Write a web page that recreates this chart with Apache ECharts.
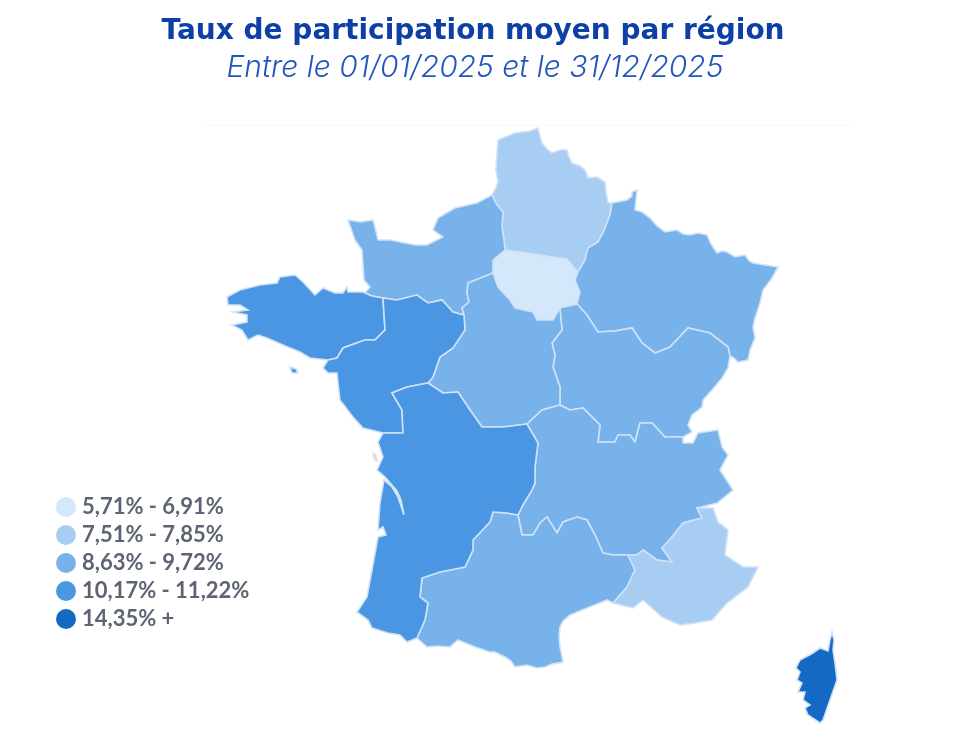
<!DOCTYPE html>
<html>
<head>
<meta charset="utf-8">
<title>Taux de participation moyen par région</title>
<script src="https://cdn.jsdelivr.net/npm/echarts@6/dist/echarts.min.js"></script>
<style>
  html, body { margin: 0; padding: 0; background: #fff; }
  #chart { width: 960px; height: 740px; }
</style>
</head>
<body>
<div id="chart"></div>
<script>
// values (only the class of each region can be read)
const regionNames = ['Île-de-France', 'Hauts-de-France', 'Grand Est', 'Normandie', 'Bourgogne-Franche-Comté',
  'Centre-Val de Loire', 'Auvergne-Rhône-Alpes', 'Occitanie', "Provence-Alpes-Côte d'Azur",
  'Bretagne', 'Pays de la Loire', 'Nouvelle-Aquitaine', 'Corse'];
const regionValues = [6.5, 7.7, 9.1, 9.0, 9.3, 8.9, 9.5, 9.2, 7.6, 10.6, 10.9, 10.3, 14.35];

const classMin = [5.71, 7.51, 8.63, 10.17, 14.35];
const classMax = [6.91, 7.85, 9.72, 11.22, 100];
const classLabels = ['5,71% - 6,91%', '7,51% - 7,85%', '8,63% - 9,72%', '10,17% - 11,22%', '14,35% +'];
const classColors = ['#d5e7fa', '#a7cdf3', '#77b2ea', '#4a96e3', '#1469c2'];

// map outline, shared borders first so neighbours fit exactly
const norHdf = [[492,195],[497,205],[503,212],[502,227],[504,240],[505,250]];
const norIdf = [[505,250],[493,260],[493,273]];
const norCvl = [[493,273],[468,283],[467,293],[469,302],[462,308],[464,315]];
const norPdl = [[383,298],[397,300],[417,295],[428,303],[442,300],[453,312],[464,315]];
const norBre = [[365,293],[372,296],[383,298]];
const hdfIdf = [[505,250],[527,253],[553,257],[567,259],[578,272]];
const hdfGe = [[578,272],[585,260],[588,248],[598,242],[603,233],[610,215],[612,203]];
const idfGe = [[578,272],[575,280],[580,292],[577,304]];
const idfBfc = [[577,304],[560,308]];
const idfCvl = [[560,308],[553,320],[537,320],[533,312],[515,308],[510,300],[498,287],[493,273]];
const geBfc = [[577,304],[587,315],[598,332],[615,331],[632,328],[642,343],[655,353],[670,347],[688,328],[710,333],[728,347],[730,356]];
const bfcCvl = [[560,308],[561,320],[562,330],[552,343],[555,355],[553,367],[560,387],[560,405]];
const bfcAra = [[560,405],[570,410],[583,408],[600,425],[598,442],[615,442],[618,435],[630,435],[635,442],[640,423],[652,423],[665,437],[683,437]];
const cvlAra = [[527,424],[542,410],[560,405]];
const cvlPdl = [[428,383],[433,377],[440,357],[453,348],[465,330],[464,315]];
const cvlNaq = [[428,383],[443,393],[458,392],[470,410],[482,427],[503,427],[527,424]];
const brePdl = [[383,298],[385,330],[375,340],[365,340],[343,348],[337,358],[328,360]];
const pdlNaq = [[383,433],[403,433],[402,410],[392,393],[407,387],[428,383]];
const naqAra = [[527,424],[538,443],[535,467],[535,483],[532,490],[523,505],[518,515]];
const naqOcc = [[518,515],[507,513],[493,512],[490,522],[473,540],[473,550],[465,567],[440,572],[422,578],[420,597],[428,603],[425,620],[417,638]];
const occAra = [[518,515],[522,535],[533,535],[540,523],[547,517],[557,533],[563,522],[577,517],[587,520],[595,535],[603,553],[613,555],[628,555]];
const occPaca = [[628,555],[635,570],[627,587],[613,603]];
const araPaca = [[628,555],[637,555],[643,550],[657,560],[672,562],[662,548],[672,537],[683,523],[702,518],[697,508]];

// coasts and land borders
const norCoast = [[365,293],[370,287],[364,280],[362,250],[355,240],[348,220],[360,222],[373,220],[375,227],[378,240],[390,240],[415,245],[427,245],[443,237],[433,230],[438,218],[455,208],[477,203],[492,195]];
const hdfCoast = [[492,195],[495,190],[498,182],[496,170],[497,153],[498,140],[515,133],[530,131],[538,128],[540,136],[542,143],[548,150],[552,153],[560,150],[567,150],[569,157],[572,163],[580,166],[585,170],[588,178],[597,177],[605,182],[606,192],[608,203],[612,203]];
const geCoast = [[612,203],[627,200],[632,196],[632,192],[637,190],[636,200],[635,210],[642,212],[650,218],[657,226],[665,232],[677,230],[683,234],[690,235],[698,233],[707,235],[711,244],[717,253],[722,251],[727,252],[735,257],[745,255],[749,261],[753,263],[765,265],[778,267],[772,278],[763,290],[760,303],[755,318],[753,327],[755,338],[750,350],[748,360],[738,362],[734,358],[730,356]];
const bfcEast = [[730,356],[728,368],[722,378],[712,390],[703,400],[702,407],[692,415],[688,425],[692,432],[683,437]];
const araEast = [[683,437],[683,443],[693,443],[698,433],[718,430],[722,447],[728,455],[720,470],[733,490],[717,503],[697,508]];
const pacaCoast = [[697,508],[713,508],[718,522],[728,530],[725,555],[743,567],[758,567],[748,587],[727,603],[712,620],[695,623],[680,625],[662,617],[652,608],[643,600],[633,608],[613,603]];
const occCoast = [[613,603],[607,600],[597,604],[582,610],[570,615],[563,621],[560,627],[559,637],[560,647],[563,662],[552,664],[545,667],[537,668],[527,665],[515,667],[511,661],[505,657],[495,652],[490,652],[475,647],[458,640],[452,645],[450,647],[438,646],[427,647],[417,638]];
const naqCoast = [[417,638],[407,642],[400,635],[388,633],[372,628],[368,620],[357,612],[367,597],[372,570],[378,537],[386,535],[383,527],[378,530],[380,503],[384,480],[392,487],[398,497],[404,515],[401,500],[397,491],[391,484],[385,477],[377,470],[383,457],[378,442],[383,433]];
const pdlCoast = [[383,433],[363,428],[353,417],[340,400],[338,383],[337,373],[328,373],[323,368],[328,360]];
const breCoast = [[328,360],[310,358],[300,352],[283,345],[267,338],[258,335],[248,340],[242,330],[232,325],[247,322],[247,315],[233,312],[248,310],[240,305],[228,305],[227,297],[240,290],[260,285],[277,283],[280,277],[295,275],[303,282],[315,295],[323,288],[335,293],[343,293],[347,287],[348,292],[363,292],[365,293]];
const belleIle = [[290,367],[296,369],[298,373],[292,373]];
const corse = [[832,632],[834,640],[833,650],[835,663],[837,680],[830,700],[823,720],[820,723],[808,715],[805,708],[810,705],[803,700],[805,692],[798,692],[802,683],[797,680],[800,672],[796,668],[800,660],[813,653],[820,648],[828,651],[830,640]];

const rev = (seg) => seg.slice().reverse();
const ring = (...segs) => {
  const pts = [].concat(...segs);
  pts.push(pts[0]);
  return pts;
};

const regionShapes = [
  [ring(hdfIdf, idfGe, idfBfc, idfCvl, rev(norIdf))],
  [ring(hdfCoast, rev(hdfGe), rev(hdfIdf), rev(norHdf))],
  [ring(geCoast, rev(geBfc), rev(idfGe), hdfGe)],
  [ring(norCoast, norHdf, norIdf, norCvl, rev(norPdl), rev(norBre))],
  [ring(rev(idfBfc), geBfc, bfcEast, rev(bfcAra), rev(bfcCvl))],
  [ring(rev(idfCvl), bfcCvl, rev(cvlAra), rev(cvlNaq), cvlPdl, rev(norCvl))],
  [ring(cvlAra, bfcAra, araEast, rev(araPaca), rev(occAra), rev(naqAra))],
  [ring(occAra, occPaca, occCoast, rev(naqOcc))],
  [ring(araPaca, pacaCoast, rev(occPaca))],
  [ring(breCoast, norBre, brePdl)],
  [ring(brePdl, rev(pdlCoast), pdlNaq, cvlPdl, rev(norPdl))],
  [ring(pdlNaq, cvlNaq, naqAra, naqOcc, naqCoast)],
  [ring(corse)]
];

const features = regionNames.map((name, i) => ({
  type: 'Feature',
  properties: { name: name },
  geometry: { type: 'Polygon', coordinates: regionShapes[i] }
}));
features[9].geometry = { type: 'MultiPolygon', coordinates: [regionShapes[9], [ring(belleIle)]] };

echarts.registerMap('france', { type: 'FeatureCollection', features: features });

const chart = echarts.init(document.getElementById('chart'));
chart.setOption({
  animation: false,
  title: [
    {
      text: 'Taux de participation moyen par région',
      left: 468, top: 13, textAlign: 'center',
      textStyle: { fontFamily: 'DejaVu Sans', fontSize: 28, fontWeight: 700, color: '#0d3fa6' }
    },
    {
      text: 'Entre le 01/01/2025 et le 31/12/2025',
      left: 470, top: 48, textAlign: 'center',
      textStyle: { fontFamily: 'Inter', fontSize: 30, fontWeight: 300, fontStyle: 'italic', color: '#2256bd' }
    }
  ],
  visualMap: {
    type: 'piecewise',
    left: 41, top: 481,
    inverse: true,
    itemSymbol: 'circle',
    itemWidth: 20, itemHeight: 20, itemGap: 6, textGap: 6,
    hoverLink: false,
    selectedMode: false,
    textStyle: { fontFamily: 'Lato', fontSize: 22, fontWeight: 700, color: '#5d6473' },
    pieces: classLabels.map((label, i) => ({ min: classMin[i], max: classMax[i], label: label, color: classColors[i] }))
  },
  series: [{
    type: 'map',
    map: 'france',
    projection: { project: (p) => p, unproject: (p) => p },
    left: 227, top: 128, width: 610, height: 595,
    silent: true,
    label: { show: false },
    itemStyle: { borderColor: '#cfe2f7', borderWidth: 1.6 },
    data: regionNames.map((name, i) => ({ name: name, value: regionValues[i] }))
  }],
  graphic: [{
    type: 'line',
    silent: true,
    shape: { x1: 205, y1: 125, x2: 852, y2: 125 },
    style: { stroke: '#f7f7f7', lineWidth: 1 }
  }, {
    type: 'polygon',
    silent: true,
    shape: { points: [[372, 452], [376, 454], [378, 462], [374, 460]] },
    style: { fill: '#dcdcdc' }
  }]
});
</script>
</body>
</html>
